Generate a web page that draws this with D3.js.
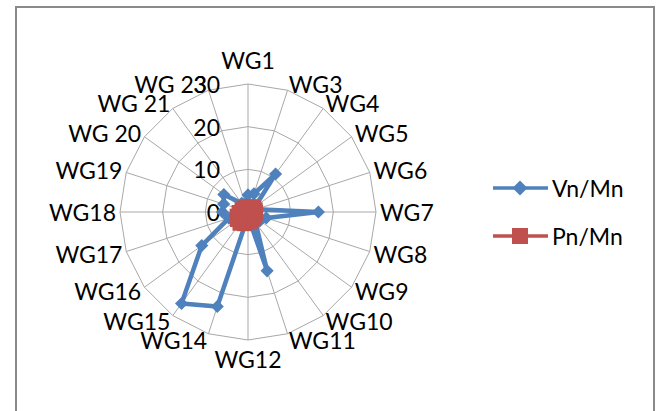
<!DOCTYPE html>
<html>
<head>
<meta charset="utf-8">
<script src="https://cdn.jsdelivr.net/npm/d3@7"></script>
<style>
  html, body { margin: 0; padding: 0; background: #fff; }
  svg { display: block; }
  text { font-family: Lato, "Open Sans", sans-serif; fill: #000; }
</style>
</head>
<body>
<svg id="chart" width="656" height="411"></svg>
<script>
const categories = ["WG1","WG3","WG4","WG5","WG6","WG7","WG8","WG9","WG10","WG11",
                    "WG12","WG14","WG15","WG16","WG17","WG18","WG19","WG 20","WG 21","WG 23"];
const vnValues = [4, 4.5, 11, 2, 2, 16.5, 4.5, 3.5, 3, 14.5,
                  1, 23.3, 26.5, 13.4, 4.7, 6, 6, 7, 2.5, 2];
const pnValues = [1.3, 1.4, 1.6, 1.8, 1.9, 1.9, 1.9, 2.0, 2.2, 2.4,
                  2.6, 3.0, 3.4, 3.2, 2.8, 2.2, 1.6, 1.4, 1.3, 1.2];
const tickValues = [0, 10, 20, 30];
const seriesNames = ["Vn/Mn", "Pn/Mn"];
const seriesColors = ["#4F81BD", "#C0504D"];

const svg = d3.select("#chart");
const cx = 248, cy = 212, R = 128;
const fontSize = 23;

// frame
svg.append("path")
  .attr("d", "M16,420 L16,7 L654,7 L654,420")
  .attr("fill", "none").attr("stroke", "#8a8a8a").attr("stroke-width", 2);

const r = d3.scaleLinear().domain([0, 30]).range([0, R]);
const n = categories.length;
const ang = d3.scaleLinear().domain([0, n]).range([0, 2 * Math.PI]);

const g = svg.append("g").attr("transform", `translate(${cx},${cy})`);

// grid rings
const ring = d3.lineRadial().angle((d, i) => ang(i)).radius(d => r(d)).curve(d3.curveLinearClosed);
tickValues.filter(t => t > 0).forEach(t => {
  g.append("path").attr("d", ring(categories.map(() => t)))
    .attr("fill", "none").attr("stroke", "#a8a8a8").attr("stroke-width", 1);
});
// spokes
categories.forEach((c, i) => {
  const a = ang(i);
  g.append("line").attr("x1", 0).attr("y1", 0)
    .attr("x2", r(30) * Math.sin(a)).attr("y2", -r(30) * Math.cos(a))
    .attr("stroke", "#a8a8a8").attr("stroke-width", 1);
});

// tick labels
tickValues.forEach(t => {
  g.append("text").attr("x", -28).attr("y", -r(t))
    .attr("text-anchor", "end").attr("dominant-baseline", "central")
    .attr("font-size", fontSize).text(t);
});

// category labels
categories.forEach((c, i) => {
  const a = ang(i);
  const s = Math.sin(a), co = Math.cos(a);
  let x, y, anchor;
  if (Math.abs(s) < 0.05) {
    anchor = "middle"; x = 0;
    y = co > 0 ? -(R + 24) : (R + 19);
  } else {
    anchor = s > 0 ? "start" : "end";
    x = (R + 4) * s;
    y = -(R + 4) * co - 3 * co;
  }
  g.append("text").attr("x", x).attr("y", y)
    .attr("text-anchor", anchor).attr("dominant-baseline", "central")
    .attr("font-size", fontSize).text(c);
});

// series
const series = [vnValues, pnValues];
const symbols = [d3.symbolDiamond2, d3.symbolSquare];
const symSizes = [110, 196];
series.forEach((vals, k) => {
  const line = d3.lineRadial().angle((d, i) => ang(i)).radius(d => r(d)).curve(d3.curveLinearClosed);
  g.append("path").attr("d", line(vals))
    .attr("fill", "none").attr("stroke", seriesColors[k]).attr("stroke-width", 4.5)
    .attr("stroke-linejoin", "round");
  g.selectAll(null).data(vals).enter().append("path")
    .attr("d", d3.symbol().type(symbols[k]).size(symSizes[k]))
    .attr("transform", (d, i) => `translate(${r(d) * Math.sin(ang(i))},${-r(d) * Math.cos(ang(i))})`)
    .attr("fill", seriesColors[k]);
});

// legend
const legY = [188, 236];
seriesNames.forEach((name, k) => {
  const lg = svg.append("g");
  lg.append("line").attr("x1", 493).attr("x2", 548).attr("y1", legY[k]).attr("y2", legY[k])
    .attr("stroke", seriesColors[k]).attr("stroke-width", 3.5);
  lg.append("path").attr("d", d3.symbol().type(symbols[k]).size(symSizes[k] * 1.3))
    .attr("transform", `translate(520,${legY[k]})`).attr("fill", seriesColors[k]);
  lg.append("text").attr("x", 552).attr("y", legY[k])
    .attr("dominant-baseline", "central").attr("font-size", fontSize).text(name);
});
</script>
</body>
</html>
